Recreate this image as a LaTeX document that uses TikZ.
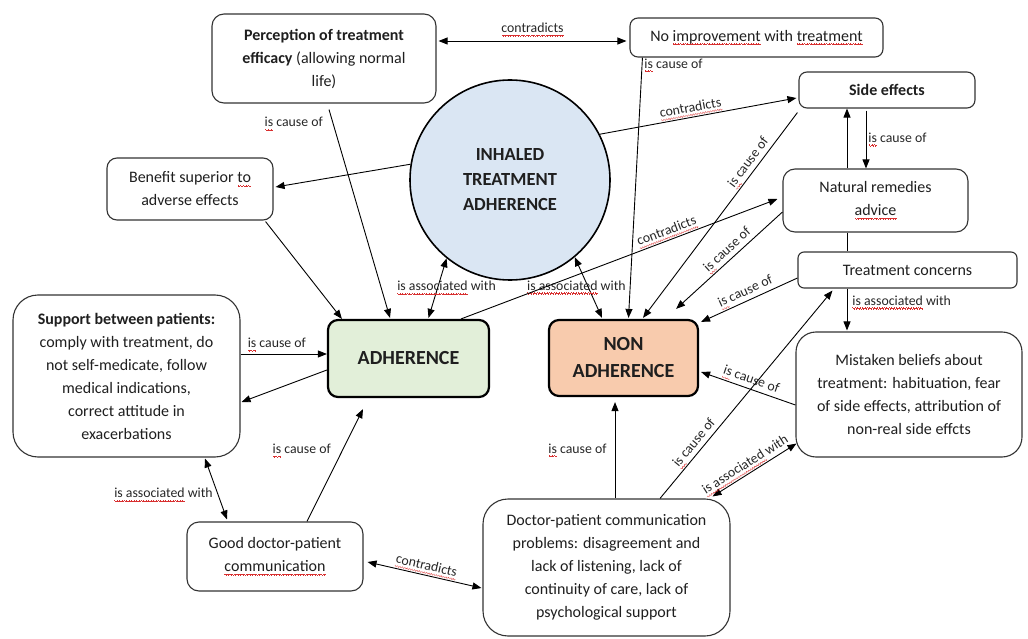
\documentclass[tikz,border=0pt]{standalone}
\usepackage{fontspec}
\setmainfont{Carlito}
\usetikzlibrary{arrows.meta,calc}
\definecolor{sqred}{HTML}{D83030}
\definecolor{adhgreen}{HTML}{E2EFD9}
\definecolor{nonorange}{HTML}{F8CBAD}
\definecolor{circblue}{HTML}{DAE6F3}
\definecolor{edgecol}{HTML}{333333}
\newsavebox\sqbox
\newcommand\sqwave{\hbox{\rule[-2.7pt]{0.6pt}{0.6pt}\rule[-3.3pt]{0.6pt}{0.6pt}\rule[-3.9pt]{0.6pt}{0.6pt}\rule[-3.3pt]{0.6pt}{0.6pt}}}
\newcommand\sq[1]{\sbox\sqbox{#1}\leavevmode\rlap{\hbox to \wd\sqbox{\color{sqred}\xleaders\sqwave\hfill}}\usebox\sqbox}
\tikzset{
  cbox/.style={draw=edgecol, line width=1.1pt, rounded corners=#1, fill=white, align=center,
    font=\fontsize{16}{23}\selectfont, inner sep=0pt, text=black!88},
  cbox/.default=10pt,
  lab/.style={font=\fontsize{13.8}{15}\selectfont, inner sep=1pt, text=black!85},
  plainline/.style={draw=black, line width=0.9pt},
  arr/.style={plainline, -{Triangle[length=9pt,width=7pt]}},
  darr/.style={plainline, {Triangle[length=9pt,width=7pt]}-{Triangle[length=9pt,width=7pt]}},
}
\begin{document}
\begin{tikzpicture}[x=1pt,y=-1pt]
\useasboundingbox (0,0) rectangle (1028,639);
% nodes
\node[cbox=12pt, minimum width=224pt, minimum height=89pt] (perc) at (324,58.5)
  {\textbf{Perception of treatment}\\\textbf{efficacy} (allowing normal\\life)};
\node[cbox=8pt, minimum width=253pt, minimum height=39pt] (noimp) at (756.5,37.5)
  {No \sq{improvement} with \sq{treatment}};
\node[cbox=8pt, minimum width=176pt, minimum height=36pt] (side) at (887,90)
  {\textbf{Side effects}};
\node[cbox=12pt, minimum width=185pt, minimum height=63pt] (nat) at (875.5,200.5)
  {Natural remedies\\\sq{advice}};
\node[cbox=6pt, minimum width=219pt, minimum height=36pt] (conc) at (907.5,270)
  {Treatment concerns};
\node[cbox=20pt, minimum width=226pt, minimum height=125pt] (mist) at (909,394.5)
  {Mistaken beliefs about\\treatment: habituation, fear\\of side effects, attribution of\\non-real side effcts};
\node[circle, draw=black, line width=1.6pt, fill=circblue, minimum size=200pt, inner sep=0pt,
  align=center, text=black!88, font=\bfseries\fontsize{18.5}{25}\selectfont] (circ) at (510,180)
  {INHALED\\TREATMENT\\ADHERENCE};
\node[cbox=10pt, minimum width=166pt, minimum height=62pt] (benefit) at (190,189)
  {Benefit superior \sq{to}\\adverse effects};
\node[cbox=10pt, draw=black, line width=2.2pt, fill=adhgreen, minimum width=161pt, minimum height=77pt,
  font=\bfseries\fontsize{20}{27}\selectfont] (adh) at (408.5,358.5) {ADHERENCE};
\node[cbox=10pt, draw=black, line width=2.2pt, fill=nonorange, minimum width=149pt, minimum height=76pt,
  font=\bfseries\fontsize{20}{27}\selectfont] (nonadh) at (623.5,358) {\raisebox{-3pt}{\parbox{140pt}{\centering NON\\ADHERENCE}}};
\node[cbox=25pt, minimum width=227pt, minimum height=162pt] (support) at (126.5,376)
  {\textbf{Support between patients:}\\comply with treatment, do\\not self-medicate, follow\\medical indications,\\correct attitude in\\exacerbations};
\node[cbox=12pt, minimum width=176pt, minimum height=69pt] (good) at (275,556.5)
  {Good doctor-patient\\\sq{communication}};
\node[cbox=25pt, minimum width=247pt, minimum height=137pt] (docprob) at (606.5,567.5)
  {Doctor-patient communication\\problems: disagreement and\\lack of listening, lack of\\continuity of care, lack of\\psychological support};
% connectors
\draw[darr] ($(perc.east)+(2,-17.5)$) -- node[lab, above=3pt]{\sq{contradicts}} ($(noimp.west)+(-3,3.5)$);
\draw[arr] ($(perc.south)+(5,6)$) -- node[lab,pos=0.07,left=9pt]{\sq{is} cause of} ($(adh.north)+(-18.5,-1)$);
\draw[arr] ($(noimp.south west)+(13,0)$) -- node[lab,pos=0.03,right=1pt]{\sq{is} cause of} ($(nonadh.north)+(5,-1)$);
\draw[arr] (circ.171.7) -- ($(benefit.east)+(2,-2)$);
\draw[arr] ($(benefit.south east)+(-8,1)$) -- ($(adh.north west)+(15,0)$);
\draw[darr] (circ.231.9) -- node[lab,pos=0.5,xshift=9pt]{\sq{is associated} with} ($(adh.north)+(20,-1)$);
\draw[darr] (circ.310.3) -- node[lab,pos=0.5,xshift=-12pt]{\sq{is associated} with} ($(nonadh.north)+(-21.5,-1)$);
\draw[arr] (circ.27) -- node[lab,pos=0.47,above,sloped]{\sq{contradicts}} ($(side.west)+(-2,8)$);
\draw[arr] ($(side.south west)+(-1,4)$) -- node[lab,pos=0.27,above,sloped]{\sq{is} cause of} ($(nonadh.north)+(19.5,-1)$);
\draw[arr] ($(adh.north east)+(-29,0)$) -- node[lab,pos=0.66,above,sloped]{\sq{contradicts}} ($(nat.west)+(-5,-1.5)$);
\draw[arr] ($(nat.west)+(0,11.5)$) -- node[lab,pos=0.46,above,sloped]{\sq{is} cause of} ($(nonadh.north east)+(-23,-10)$);
\draw[arr] ($(conc.west)+(0,8)$) -- node[lab,pos=0.5,above,sloped]{\sq{is} cause of} ($(nonadh.north east)+(2,3)$);
\draw[arr] ($(nat.north)+(-28.5,0)$) -- ($(side.south)+(-40,0)$);
\draw[arr] ($(side.south)+(-21,2)$) -- node[lab,midway,right=1pt]{\sq{is} cause of} ($(nat.north)+(-9.5,0)$);
\draw[plainline] ($(nat.south)+(-28.5,0)$) -- ($(conc.north)+(-60.5,0)$);
\draw[arr] ($(conc.south)+(-60.5,0)$) -- node[lab,pos=0.33,right=4pt]{\sq{is associated} with} ($(mist.north)+(-62,-1)$);
\draw[arr] ($(mist.west)+(0,10.5)$) -- node[lab,pos=0.5,above,sloped]{\sq{is} cause of} ($(nonadh.east)+(2,14)$);
\draw[arr] ($(docprob.north)+(53.5,0)$) -- node[lab,pos=0.24,above,sloped]{\sq{is} cause of} ($(conc.south west)+(35,2)$);
\draw[darr] ($(docprob.north east)+(-18,-2)$) -- node[lab,pos=0.45,above,sloped]{\sq{is associated} with} ($(mist.south west)+(1,-14)$);
\draw[arr] ($(docprob.north)+(8.5,0)$) -- node[lab,pos=0.5,left=7pt]{\sq{is} cause of} ($(nonadh.south)+(-8.5,5)$);
\draw[arr] ($(adh.west)+(0,11.5)$) -- ($(support.east)+(1,26)$);
\draw[arr] ($(support.east)+(0,-22)$) -- node[lab,pos=0.42,above=1pt]{\sq{is} cause of} ($(adh.west)+(0,-4.5)$);
\draw[darr] ($(support.south)+(78.5,1)$) -- node[lab,pos=0.6,left=4pt]{\sq{is associated} with} ($(good.north)+(-48,-2)$);
\draw[arr] ($(good.north)+(32,0)$) -- node[lab,pos=0.63,left=10pt]{\sq{is} cause of} ($(adh.south)+(-45.5,11)$);
\draw[darr] ($(good.east)+(4,5.5)$) -- node[lab,midway,above,sloped]{\sq{contradicts}} ($(docprob.west)+(-1,20.5)$);
\end{tikzpicture}
\end{document}
